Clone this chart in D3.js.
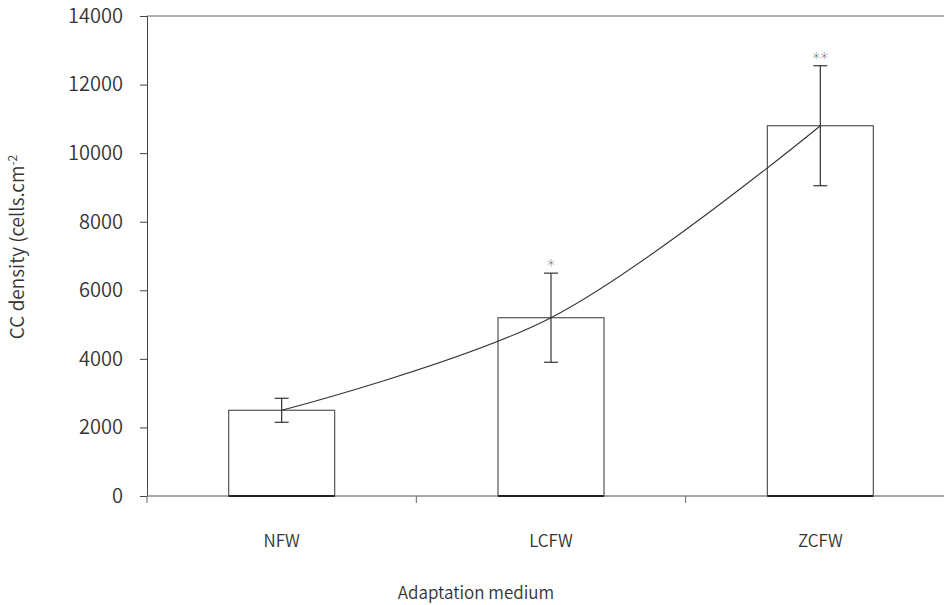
<!DOCTYPE html>
<html>
<head>
<meta charset="utf-8">
<script src="https://cdn.jsdelivr.net/npm/d3@7"></script>
<style>
  body { margin: 0; background: #fff; }
  svg { display: block; }
  text { fill: #333; font-family: 'Noto Sans CJK KR', 'Noto Sans', sans-serif; font-weight: 350; }
</style>
</head>
<body>
<svg id="chart" width="944" height="605"></svg>
<script>
// données
const categories = ["NFW", "LCFW", "ZCFW"];
const densite = [2500, 5200, 10800];
const erreurs = [350, 1300, 1750];
const signif = ["", "*", "**"];
const yTicks = [0, 2000, 4000, 6000, 8000, 10000, 12000, 14000];

const svg = d3.select("#chart");
const margeGauche = 147, margeHaut = 16, margeBas = 496;
const police = "'Noto Sans CJK KR', 'Noto Sans', sans-serif";

// la zone de tracé dépasse à droite, comme dans l'original
const x = d3.scaleBand().domain(categories).range([margeGauche, 955]);
const y = d3.scaleLinear().domain([0, 14000]).range([margeBas, margeHaut]);

// cadre du haut
svg.append("line")
  .attr("x1", margeGauche).attr("x2", 944)
  .attr("y1", y(14000)).attr("y2", y(14000))
  .attr("stroke", "#666").attr("stroke-width", 1);

// axe Y
const yAxis = svg.append("g")
  .attr("transform", `translate(${margeGauche},0)`)
  .call(d3.axisLeft(y).tickValues(yTicks).tickSize(7).tickPadding(17).tickFormat(d3.format("d")));
yAxis.select(".domain").attr("stroke", "#444");
yAxis.selectAll(".tick line").attr("stroke", "#444");
yAxis.selectAll("text")
  .style("font-family", police).style("font-weight", 350)
  .style("font-size", "20px").attr("fill", "#333");

// barres
const bw = 106;
svg.selectAll("rect.bar")
  .data(categories)
  .enter()
  .append("rect")
  .attr("class", "bar")
  .attr("x", (d) => x(d) + x.bandwidth() / 2 - bw / 2)
  .attr("y", (d, i) => y(densite[i]))
  .attr("width", bw)
  .attr("height", (d, i) => y(0) - y(densite[i]))
  .attr("fill", "#fff")
  .attr("stroke", "#555")
  .attr("stroke-width", 1.2);

// axe X
const xAxis = svg.append("g")
  .attr("transform", `translate(0,${margeBas})`)
  .call(d3.axisBottom(x).tickSize(0).tickPadding(39));
xAxis.select(".domain").attr("stroke", "#888").attr("stroke-width", 1.5)
  .attr("d", `M${margeGauche},0H944`);
xAxis.selectAll("text")
  .style("font-family", police).style("font-weight", 350)
  .style("font-size", "17px").attr("fill", "#333");

// graduations entre les catégories
svg.selectAll("line.sep")
  .data(categories)
  .enter()
  .append("line")
  .attr("class", "sep")
  .attr("x1", (d) => x(d)).attr("x2", (d) => x(d))
  .attr("y1", margeBas).attr("y2", margeBas + 7)
  .attr("stroke", "#666");

// base des barres plus foncée
svg.selectAll("line.base")
  .data(categories)
  .enter()
  .append("line")
  .attr("class", "base")
  .attr("x1", (d) => x(d) + x.bandwidth() / 2 - bw / 2)
  .attr("x2", (d) => x(d) + x.bandwidth() / 2 + bw / 2)
  .attr("y1", margeBas).attr("y2", margeBas)
  .attr("stroke", "#222").attr("stroke-width", 2);

// courbe lissée par les sommets
const ligne = d3.line()
  .x((d, i) => x(categories[i]) + x.bandwidth() / 2)
  .y((d) => y(d))
  .curve(d3.curveCatmullRom.alpha(0.5));
svg.append("path")
  .datum(densite)
  .attr("d", ligne)
  .attr("fill", "none")
  .attr("stroke", "#333")
  .attr("stroke-width", 1.1);

// barres d'erreur
const eb = svg.append("g").attr("stroke", "#333").attr("stroke-width", 1.2);
categories.forEach((c, i) => {
  const cx = x(c) + x.bandwidth() / 2;
  const hi = y(densite[i] + erreurs[i]);
  const lo = y(densite[i] - erreurs[i]);
  eb.append("line").attr("x1", cx).attr("x2", cx).attr("y1", hi).attr("y2", lo);
  eb.append("line").attr("x1", cx - 7).attr("x2", cx + 7).attr("y1", hi).attr("y2", hi);
  eb.append("line").attr("x1", cx - 7).attr("x2", cx + 7).attr("y1", lo).attr("y2", lo);
});

// astérisques
svg.selectAll("text.sig")
  .data(signif)
  .enter()
  .append("text")
  .attr("class", "sig")
  .attr("x", (d, i) => x(categories[i]) + x.bandwidth() / 2)
  .attr("y", (d, i) => y(densite[i] + erreurs[i]) - 2)
  .attr("text-anchor", "middle")
  .style("font-family", "'DejaVu Sans', sans-serif")
  .style("font-size", "16px")
  .attr("fill", "#666")
  .text((d) => d);

// titres des axes
svg.append("text")
  .attr("x", 476).attr("y", 599)
  .attr("text-anchor", "middle")
  .style("font-size", "17px")
  .text("Adaptation medium");

const yt = svg.append("text")
  .attr("transform", "translate(24,247) rotate(-90)")
  .attr("text-anchor", "middle")
  .style("font-size", "19px");
yt.append("tspan").text("CC density (cells.cm");
yt.append("tspan").attr("dy", -7).style("font-size", "12px").text("-2");
</script>
</body>
</html>
